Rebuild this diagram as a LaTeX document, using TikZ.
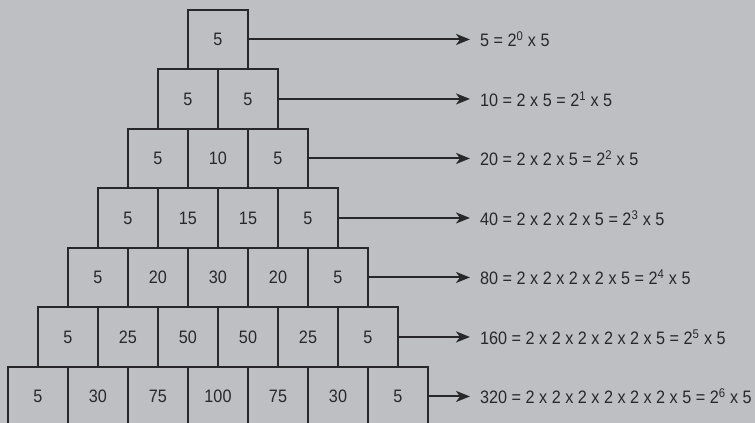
\documentclass[tikz,border=0pt]{standalone}
\usepackage{fontspec}
\setmainfont{Liberation Sans}[FakeStretch=0.9]
\usetikzlibrary{arrows.meta}
\definecolor{bg}{RGB}{190,191,195}
\definecolor{ink}{RGB}{40,40,42}
\begin{document}
\begin{tikzpicture}[x=1pt,y=-1pt,
  cell/.style={draw=ink, line width=2pt, minimum width=60pt, minimum height=59.5pt,
    inner sep=0pt, text=ink, font=\fontsize{18}{20}\selectfont},
  eqn/.style={anchor=west, inner sep=0pt, text=ink, font=\fontsize{18}{20}\selectfont},
  conn/.style={draw=ink, line width=2pt, -{Stealth[length=14pt,width=11pt,inset=4pt]}}]
\fill[bg] (0,0) rectangle (755,423);
\useasboundingbox (0,0) rectangle (755,423);
\foreach \r/\vals/\txt in {
  0/{5}/{5 = 2\textsuperscript{0} x 5},
  1/{5,5}/{10 = 2 x 5 = 2\textsuperscript{1} x 5},
  2/{5,10,5}/{20 = 2 x 2 x 5 = 2\textsuperscript{2} x 5},
  3/{5,15,15,5}/{40 = 2 x 2 x 2 x 5 = 2\textsuperscript{3} x 5},
  4/{5,20,30,20,5}/{80 = 2 x 2 x 2 x 2 x 5 = 2\textsuperscript{4} x 5},
  5/{5,25,50,50,25,5}/{160 = 2 x 2 x 2 x 2 x 2 x 5 = 2\textsuperscript{5} x 5},
  6/{5,30,75,100,75,30,5}/{320 = 2 x 2 x 2 x 2 x 2 x 2 x 5 = 2\textsuperscript{6} x 5}} {
  \foreach \v [count=\c from 0] in \vals {
    \node[cell] (b-\r-\c) at ({218-30*\r+60*\c}, {39.45+59.5*\r}) {\v};
  }
  \coordinate (tip-\r) at (470, {39.45+59.5*\r});
  \draw[conn] (b-\r-\r.east) -- (tip-\r);
  \node[eqn] (t-\r) at (480, {39.45+59.5*\r}) {\txt};
}
\end{tikzpicture}
\end{document}
